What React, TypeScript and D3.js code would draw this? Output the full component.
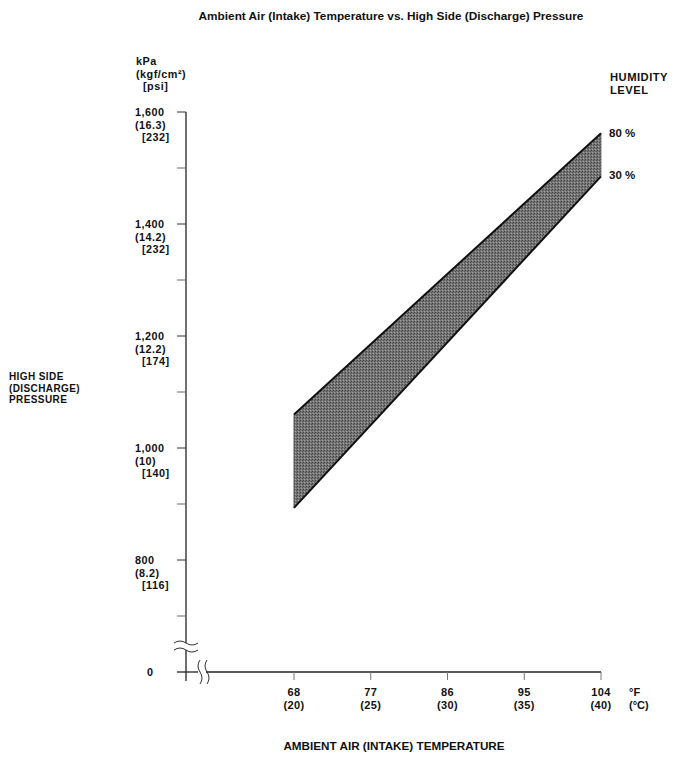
import React from "react";
import * as d3 from "d3";

const tempsF = [68, 77, 86, 95, 104];
const tempsC = [20, 25, 30, 35, 40];
const kpaMajor = [800, 1000, 1200, 1400, 1600];
const kgfLabels = ["(8.2)", "(10)", "(12.2)", "(14.2)", "(16.3)"];
const psiLabels = ["[116]", "[140]", "[174]", "[232]", "[232]"];
const kpaMinor = [700, 900, 1100, 1300, 1500];
const bandTemps = [68, 104];
const humidity80 = [1060, 1562];
const humidity30 = [893, 1485];

const FONT = "'Liberation Sans', Arial, Helvetica, sans-serif";

export default function App() {
  const W = 688, H = 761;
  const x = d3.scaleLinear().domain([68, 104]).range([294, 601]);
  const y = d3.scaleLinear().domain([700, 1600]).range([616, 112]);
  const axisX = 186;
  const zeroY = 672;

  const band = bandTemps.map((t, i) => ({ t, lo: humidity30[i], hi: humidity80[i] }));
  const area = d3.area<any>().x((d) => x(d.t)).y0((d) => y(d.lo)).y1((d) => y(d.hi));
  const lineHi = d3.line<any>().x((d) => x(d.t)).y((d) => y(d.hi));
  const lineLo = d3.line<any>().x((d) => x(d.t)).y((d) => y(d.lo));

  const wavyH = (x0: number, yy: number) =>
    `M${x0},${yy} q6,-4 12,0 t12,0`;
  const wavyV = (xx: number, y0: number) =>
    `M${xx},${y0} q-4,6 0,12 t0,12`;

  const txt = { fontFamily: FONT, fontWeight: 700, fontSize: 10.8, fill: "#111" } as any;
  const tick = { ...txt, fontSize: 10.8, letterSpacing: 0.5 };

  return (
    <svg width={W} height={H} style={{ position: "absolute", left: 0, top: 0 }}>
      <defs>
        <pattern id="stip" width="3" height="3" patternUnits="userSpaceOnUse">
          <rect width="3" height="3" fill="#767676" />
          <rect x="0" y="0" width="1" height="1" fill="#404040" />
          <rect x="2" y="1" width="1" height="1" fill="#505050" />
          <rect x="1" y="2" width="1" height="1" fill="#a5a5a5" />
        </pattern>
      </defs>
      <rect width={W} height={H} fill="#fff" />

      <text x={391} y={20} textAnchor="middle" {...txt} fontSize={11.8}>
        Ambient Air (Intake) Temperature vs. High Side (Discharge) Pressure
      </text>

      {/* y unit labels */}
      <text x={136} y={65} {...tick}>kPa</text>
      <text x={136} y={77.5} {...tick}>(kgf/cm²)</text>
      <text x={143} y={90} {...tick}>[psi]</text>

      {/* y axis */}
      <line x1={axisX} x2={axisX} y1={y(1600)} y2={643} stroke="#222" strokeWidth={1.3} />
      <line x1={axisX} x2={axisX} y1={650} y2={681} stroke="#222" strokeWidth={1.3} />
      <path d={wavyH(174, 643)} fill="none" stroke="#333" strokeWidth={1} />
      <path d={wavyH(174, 650)} fill="none" stroke="#333" strokeWidth={1} />

      {kpaMajor.map((v, i) => (
        <g key={v}>
          <line x1={axisX - 9} x2={axisX} y1={y(v)} y2={y(v)} stroke="#333" strokeWidth={1} />
          <text x={135} y={y(v) + 4} {...tick}>{d3.format(",")(v)}</text>
          <text x={135} y={y(v) + 16.5} {...tick}>{kgfLabels[i]}</text>
          <text x={142} y={y(v) + 29} {...tick}>{psiLabels[i]}</text>
        </g>
      ))}
      {kpaMinor.map((v) => (
        <line key={v} x1={axisX - 9} x2={axisX} y1={y(v)} y2={y(v)} stroke="#666" strokeWidth={1} />
      ))}
      <text x={147} y={zeroY + 4} {...tick}>0</text>

      <text x={9} y={380} {...txt} fontSize={10} letterSpacing={0.4}>HIGH SIDE</text>
      <text x={9} y={391.5} {...txt} fontSize={10} letterSpacing={0.4}>(DISCHARGE)</text>
      <text x={9} y={403} {...txt} fontSize={10} letterSpacing={0.4}>PRESSURE</text>

      {/* x axis */}
      <line x1={177} x2={198} y1={zeroY} y2={zeroY} stroke="#222" strokeWidth={1.3} />
      <line x1={206} x2={x(104)} y1={zeroY} y2={zeroY} stroke="#222" strokeWidth={1.3} />
      <path d={wavyV(200, 660)} fill="none" stroke="#333" strokeWidth={1} />
      <path d={wavyV(207, 660)} fill="none" stroke="#333" strokeWidth={1} />
      {tempsF.map((t, i) => (
        <g key={t}>
          <line x1={x(t)} x2={x(t)} y1={zeroY} y2={zeroY + 8} stroke="#777" strokeWidth={1} />
          <text x={x(t)} y={696} textAnchor="middle" {...txt} fontSize={11} letterSpacing={0.3}>{t}</text>
          <text x={x(t)} y={709} textAnchor="middle" {...txt} fontSize={11} letterSpacing={0.3}>({tempsC[i]})</text>
        </g>
      ))}
      <text x={629} y={696} {...txt} fontSize={11}>°F</text>
      <text x={629} y={709} {...txt} fontSize={11}>(°C)</text>

      <text x={394} y={750} textAnchor="middle" {...txt} fontSize={11.7}>AMBIENT AIR (INTAKE) TEMPERATURE</text>

      {/* band */}
      <path d={area(band) || ""} fill="url(#stip)" stroke="none" />
      <line x1={x(68)} x2={x(68)} y1={y(humidity80[0])} y2={y(humidity30[0])} stroke="#555" strokeWidth={1} />
      <line x1={x(104)} x2={x(104)} y1={y(humidity80[1])} y2={y(humidity30[1])} stroke="#666" strokeWidth={0.8} />
      <path d={lineHi(band) || ""} fill="none" stroke="#111" strokeWidth={2} />
      <path d={lineLo(band) || ""} fill="none" stroke="#111" strokeWidth={2} />

      <text x={610} y={81} {...txt} fontSize={11.2} letterSpacing={0.5}>HUMIDITY</text>
      <text x={610} y={94} {...txt} fontSize={11.2} letterSpacing={0.5}>LEVEL</text>
      <text x={609} y={137} {...txt} fontSize={11.5}>80 %</text>
      <text x={609} y={179} {...txt} fontSize={11.5}>30 %</text>
    </svg>
  );
}
